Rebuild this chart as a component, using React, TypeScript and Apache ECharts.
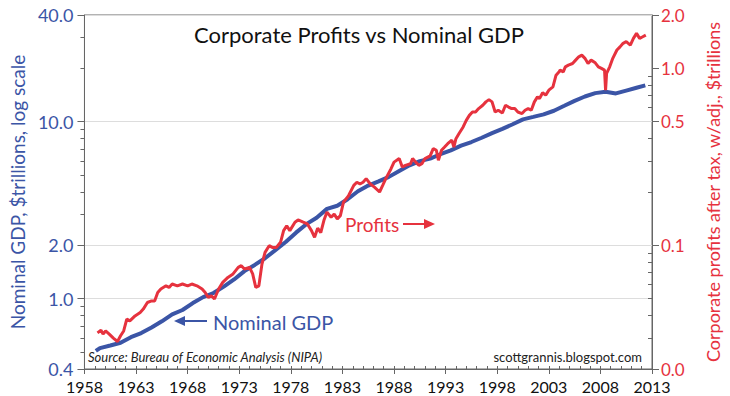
import React, { useEffect, useRef } from "react";
import * as echarts from "echarts";

// ---- data ----
const yearTicks = [1958, 1963, 1968, 1973, 1978, 1983, 1988, 1993, 1998, 2003, 2008, 2013];
const minorYears = Array.from({ length: 56 }, (_, i) => 1958 + i);

const leftTickValues = [0.4, 1, 2, 10, 40];
const leftMinorValues = [0.5, 0.6, 0.7, 0.8, 0.9, 3, 4, 5, 6, 7, 8, 9, 20, 30];
const rightTickValues = [0.02, 0.1, 0.5, 1, 2];
const rightMinorValues = [0.03, 0.04, 0.05, 0.06, 0.07, 0.08, 0.09, 0.2, 0.3, 0.4, 0.6, 0.7, 0.8, 0.9];

const gdpDates = [
  1959.1, 1959.5, 1960.5, 1961.5, 1962.5, 1963.5, 1964.5, 1965.5, 1966.5, 1967.5, 1968.5,
  1969.5, 1970.5, 1971.5, 1972.5, 1973.5, 1974.5, 1975.5, 1976.5, 1977.5, 1978.5, 1979.5,
  1980.5, 1981.5, 1982.5, 1983.5, 1984.5, 1985.5, 1986.5, 1987.5, 1988.5, 1989.5, 1990.5,
  1991.5, 1992.5, 1993.5, 1994.5, 1995.5, 1996.5, 1997.5, 1998.5, 1999.5, 2000.5, 2001.5,
  2002.5, 2003.5, 2004.5, 2005.5, 2006.5, 2007.5, 2008.5, 2009.5, 2010.5, 2011.5, 2012.35,
];
const gdpValues = [
  0.506, 0.525, 0.543, 0.563, 0.605, 0.638, 0.686, 0.744, 0.815, 0.862, 0.943,
  1.019, 1.075, 1.168, 1.282, 1.429, 1.549, 1.689, 1.878, 2.086, 2.357, 2.632,
  2.863, 3.211, 3.345, 3.638, 4.041, 4.347, 4.59, 4.87, 5.253, 5.658, 5.98,
  6.174, 6.539, 6.879, 7.309, 7.664, 8.1, 8.609, 9.089, 9.661, 10.285, 10.622,
  10.978, 11.511, 12.275, 13.094, 13.856, 14.478, 14.719, 14.419, 14.964, 15.518, 16.0,
];

const profitDates = [
  1959.26, 1959.6, 1959.8, 1960.05, 1960.4, 1960.8, 1961.2, 1961.5, 1961.8, 1962.1, 1962.4,
  1962.9, 1963.4, 1963.7, 1964.1, 1964.5, 1964.8, 1965.1, 1965.4, 1965.9, 1966.2, 1966.5,
  1967.0, 1967.5, 1968.0, 1968.4, 1968.9, 1969.4, 1969.7, 1970.0, 1970.3, 1970.6, 1971.0,
  1971.4, 1971.9, 1972.4, 1972.9, 1973.2, 1973.5, 1974.0, 1974.3, 1974.6, 1974.9, 1975.2,
  1975.5, 1975.9, 1976.2, 1976.6, 1977.0, 1977.3, 1977.6, 1977.9, 1978.4, 1978.7, 1979.2,
  1979.6, 1980.0, 1980.3, 1980.6, 1980.9, 1981.2, 1981.5, 1981.9, 1982.2, 1982.5, 1982.8,
  1983.1, 1983.6, 1984.1, 1984.4, 1984.7, 1985.0, 1985.3, 1985.7, 1986.1, 1986.6, 1986.9,
  1987.2, 1987.7, 1988.0, 1988.5, 1988.8, 1989.1, 1989.6, 1989.8, 1990.1, 1990.4, 1990.7,
  1991.0, 1991.5, 1991.8, 1992.1, 1992.3, 1992.6, 1992.9, 1993.2, 1993.6, 1993.8, 1994.0,
  1994.3, 1994.7, 1995.0, 1995.3, 1995.6, 1995.9, 1996.2, 1996.6, 1996.9, 1997.2, 1997.5,
  1997.8, 1998.1, 1998.5, 1998.8, 1999.1, 1999.4, 1999.7, 2000.0, 2000.4, 2000.7, 2001.0,
  2001.3, 2001.6, 2001.9, 2002.1, 2002.4, 2002.7, 2003.0, 2003.4, 2003.7, 2004.0, 2004.1,
  2004.4, 2004.6, 2004.9, 2005.3, 2005.6, 2005.9, 2006.2, 2006.5, 2006.8, 2007.1, 2007.5,
  2007.8, 2008.1, 2008.4, 2008.5, 2008.6, 2008.9, 2009.2, 2009.6, 2009.9, 2010.2, 2010.5,
  2010.9, 2011.2, 2011.5, 2011.8, 2012.1, 2012.4,
];
const profitValues = [
  0.032, 0.0331, 0.0315, 0.0328, 0.0315, 0.0299, 0.0286, 0.0308, 0.0328, 0.0383, 0.0374,
  0.0399, 0.0417, 0.0436, 0.0475, 0.0485, 0.0485, 0.0541, 0.0566, 0.059, 0.0578, 0.0604,
  0.059, 0.0604, 0.059, 0.0604, 0.059, 0.0566, 0.0541, 0.0507, 0.0519, 0.0497, 0.0566,
  0.0617, 0.0658, 0.0689, 0.075, 0.0767, 0.0735, 0.075, 0.0689, 0.0578, 0.059, 0.0783,
  0.0912, 0.0995, 0.0973, 0.0973, 0.104, 0.121, 0.129, 0.121, 0.135, 0.139, 0.135,
  0.132, 0.121, 0.111, 0.125, 0.118, 0.138, 0.154, 0.144, 0.15, 0.141, 0.147,
  0.175, 0.191, 0.218, 0.227, 0.222, 0.227, 0.238, 0.222, 0.213, 0.2, 0.218,
  0.238, 0.27, 0.295, 0.309, 0.277, 0.283, 0.289, 0.309, 0.295, 0.283, 0.289,
  0.309, 0.32, 0.352, 0.344, 0.302, 0.344, 0.359, 0.375, 0.392, 0.359, 0.4,
  0.428, 0.466, 0.508, 0.542, 0.566, 0.566, 0.592, 0.618, 0.646, 0.665, 0.646,
  0.566, 0.579, 0.559, 0.618, 0.604, 0.592, 0.592, 0.566, 0.555, 0.579, 0.592,
  0.579, 0.646, 0.689, 0.675, 0.727, 0.705, 0.752, 0.785, 0.914, 0.955, 0.976,
  0.955, 1.019, 1.042, 1.064, 1.112, 1.161, 1.186, 1.138, 1.064, 1.112, 1.074,
  1.019, 0.998, 0.976, 0.752, 0.935, 1.019, 1.138, 1.268, 1.321, 1.384, 1.413,
  1.352, 1.476, 1.574, 1.476, 1.507, 1.54,
];

const BLUE = "#3b55a6";
const RED = "#e6323e";
const AXIS = "#666666";
const FONT = "Lato, 'Noto Sans', sans-serif";

const L = (v: number) => Math.log10(v);

export default function App() {
  const ref = useRef<HTMLDivElement>(null);
  useEffect(() => {
    if (!ref.current) return;
    const chart = echarts.init(ref.current, undefined, { renderer: "svg" });

    const gdpData = gdpDates.map((d, i) => [d, L(gdpValues[i])]);
    const profitData = profitDates.map((d, i) => [d, L(profitValues[i])]);

    const yBase = (min: number, max: number, position: "left" | "right") => ({
      type: "value" as const,
      position,
      min: L(min),
      max: L(max),
      splitLine: { show: false },
    });

    const option: any = {
      animation: false,
      backgroundColor: "#ffffff",
      title: {
        text: "Corporate Profits vs Nominal GDP",
        left: 189,
        top: 18,
        textStyle: { fontFamily: FONT, fontSize: 22, fontWeight: "normal", color: "#111" },
      },
      grid: {
        left: 75,
        right: 75,
        top: 15,
        bottom: 27,
        show: true,
        borderColor: AXIS,
        borderWidth: 1,
        backgroundColor: "transparent",
      },
      xAxis: [
        {
          type: "value",
          position: "bottom",
          min: 1958,
          max: 2013,
          axisLine: { show: true, onZero: false, lineStyle: { color: AXIS } },
          axisTick: { show: true, customValues: yearTicks, length: 5, lineStyle: { color: AXIS } },
          axisLabel: {
            customValues: yearTicks,
            formatter: (v: number) => String(Math.round(v)),
            color: "#111",
            fontFamily: FONT,
            fontSize: 16,
            margin: 9,
          },
          splitLine: { show: false },
        },
        {
          type: "value",
          position: "bottom",
          min: 1958,
          max: 2013,
          axisLine: { show: false, onZero: false },
          axisTick: { show: true, inside: true, customValues: minorYears, length: 3, lineStyle: { color: AXIS } },
          axisLabel: { show: false },
          splitLine: { show: false },
        },
      ],
      yAxis: [
        {
          ...yBase(0.4, 40, "left"),
          name: "Nominal GDP, $trillions, log scale",
          nameLocation: "middle",
          nameGap: 53,
          nameTextStyle: { color: BLUE, fontFamily: FONT, fontSize: 19 },
          axisLine: { show: true, onZero: false, lineStyle: { color: AXIS } },
          axisTick: { show: true, customValues: leftTickValues.map(L), length: 7, lineStyle: { color: AXIS } },
          axisLabel: {
            customValues: leftTickValues.map(L),
            formatter: (v: number) => Math.pow(10, v).toFixed(1),
            color: BLUE,
            fontFamily: FONT,
            fontSize: 18,
            margin: 11,
          },
          splitLine: { show: true, lineStyle: { color: "#dddddd", width: 1 } },
        },
        {
          ...yBase(0.02, 2, "right"),
          name: "Corporate profits after tax, w/adj., $trillions",
          nameLocation: "middle",
          nameGap: 52,
          nameTextStyle: { color: RED, fontFamily: FONT, fontSize: 18 },
          axisLine: { show: true, onZero: false, lineStyle: { color: AXIS } },
          axisTick: { show: true, customValues: rightTickValues.map(L), length: 7, lineStyle: { color: AXIS } },
          axisLabel: {
            customValues: rightTickValues.map(L),
            formatter: (v: number) => Math.pow(10, v).toFixed(1),
            color: RED,
            fontFamily: FONT,
            fontSize: 17,
            margin: 9,
          },
        },
        {
          ...yBase(0.4, 40, "left"),
          axisLine: { show: false, onZero: false },
          axisTick: { show: true, customValues: leftMinorValues.map(L), length: 4, lineStyle: { color: AXIS } },
          axisLabel: { show: false },
        },
        {
          ...yBase(0.02, 2, "right"),
          axisLine: { show: false, onZero: false },
          axisTick: { show: true, inside: true, customValues: rightMinorValues.map(L), length: 4, lineStyle: { color: AXIS } },
          axisLabel: { show: false },
        },
      ],
      series: [
        {
          name: "Nominal GDP",
          type: "line",
          xAxisIndex: 0,
          yAxisIndex: 0,
          data: gdpData,
          showSymbol: false,
          lineStyle: { color: BLUE, width: 4 },
          itemStyle: { color: BLUE },
          z: 2,
        },
        {
          name: "Profits",
          type: "line",
          xAxisIndex: 0,
          yAxisIndex: 1,
          data: profitData,
          showSymbol: false,
          lineStyle: { color: RED, width: 3 },
          itemStyle: { color: RED },
          z: 3,
        },
      ],
      graphic: [
        {
          type: "text",
          x: 213,
          y: 322,
          style: {
            text: "Nominal GDP",
            font: `20px ${FONT}`,
            fill: BLUE,
            textAlign: "left",
            textVerticalAlign: "middle",
            align: "left",
            verticalAlign: "middle",
          },
        },
        { type: "line", shape: { x1: 182, y1: 321, x2: 207, y2: 321 }, style: { stroke: BLUE, lineWidth: 2 } },
        { type: "polygon", shape: { points: [[174, 321], [185, 316], [185, 326]] }, style: { fill: BLUE } },
        {
          type: "text",
          x: 345,
          y: 224,
          style: {
            text: "Profits",
            font: `19px ${FONT}`,
            fill: RED,
            textAlign: "left",
            textVerticalAlign: "middle",
            align: "left",
            verticalAlign: "middle",
          },
        },
        { type: "line", shape: { x1: 403, y1: 224, x2: 426, y2: 224 }, style: { stroke: RED, lineWidth: 2 } },
        { type: "polygon", shape: { points: [[435, 224], [424, 219], [424, 229]] }, style: { fill: RED } },
        {
          type: "text",
          x: 88,
          y: 357,
          style: {
            text: "Source: Bureau of Economic Analysis (NIPA)",
            font: `italic 13px ${FONT}`,
            fill: "#222",
            textAlign: "left",
            textVerticalAlign: "middle",
            align: "left",
            verticalAlign: "middle",
          },
        },
        {
          type: "text",
          x: 642,
          y: 357,
          style: {
            text: "scottgrannis.blogspot.com",
            font: `13px ${FONT}`,
            fill: "#222",
            textAlign: "right",
            textVerticalAlign: "middle",
            align: "right",
            verticalAlign: "middle",
          },
        },
      ],
    };

    chart.setOption(option);
    return () => chart.dispose();
  }, []);

  return (
    <div
      ref={ref}
      style={{ position: "absolute", left: 0, top: 0, width: 730, height: 396, background: "#fff" }}
    />
  );
}
